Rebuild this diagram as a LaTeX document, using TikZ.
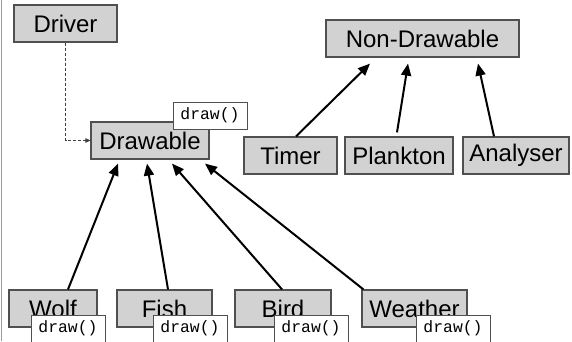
\documentclass[tikz,border=0pt]{standalone}
\usepackage{fontspec}
\setmainfont{Liberation Sans}
\setmonofont{Liberation Mono}
\usepackage{xcolor}
\usetikzlibrary{arrows.meta,positioning,calc}

\definecolor{boxfill}{HTML}{D2D2D2}
\definecolor{boxline}{HTML}{505050}

\begin{document}
\begin{tikzpicture}[x=1pt, y=1pt, every node/.style={align=center}]
\tikzset{
  cls/.style={draw=boxline, fill=boxfill, line width=1.2pt, inner sep=0pt,
    minimum height=37pt, font=\fontsize{24}{28}\selectfont},
  meth/.style={draw=boxline, fill=white, line width=0.8pt, inner sep=0pt,
    minimum width=74pt, minimum height=27pt, font=\ttfamily\fontsize{16.4}{19}\selectfont},
  inherit/.style={line width=2pt, -{Triangle[length=12pt,width=10pt]}},
  uses/.style={black!75, line width=0.8pt, dash pattern=on 3pt off 2pt, -{Triangle[length=5pt,width=4.5pt]}}
}
\useasboundingbox (0,0) rectangle (572,341);
\draw[gray!80, line width=1.2pt] (1.5,0) -- (1.5,341);

\node[cls, minimum width=103pt] (driver) at (65.5,317.5) {Driver};
\node[cls, minimum width=118pt] (drawable) at (150,200.5) {Drawable};
\node[meth] (drawablem) at (210,225.5) {draw()};

\node[cls, minimum width=193pt] (nondraw) at (422.5,302.5) {Non-Drawable};
\node[cls, minimum width=93pt] (timer) at (290.5,185.5) {Timer};
\node[cls, minimum width=108pt] (plankton) at (399,185.5) {Plankton};
\node[cls, minimum width=106pt] (analyser) at (516,185.5) {Analyser};

\node[cls, minimum width=88pt] (wolf) at (53,32.5) {Wolf};
\node[cls, minimum width=95pt] (fish) at (164.5,32.5) {Fish};
\node[cls, minimum width=96pt] (bird) at (283,32.5) {Bird};
\node[cls, minimum width=105pt] (weather) at (414.5,32.5) {Weather};
\node[meth] (wolfm) at (68,12.5) {draw()};
\node[meth] (fishm) at (190,12.5) {draw()};
\node[meth] (birdm) at (311,12.5) {draw()};
\node[meth] (weatherm) at (453,12.5) {draw()};

\draw[uses] (driver.south) |- (drawable.west);

\draw[inherit] ($(wolf.north)+(15,0)$) -- ($(drawable.south)+(-32,-4)$);
\draw[inherit] ($(fish.north)+(3.5,0)$) -- ($(drawable.south)+(-3,-4)$);
\draw[inherit] ($(bird.north)+(-1,0)$) -- ($(drawable.south)+(22,-4)$);
\draw[inherit] ($(weather.north west)+(2,0)$) -- ($(drawable.south)+(55,-4)$);

\draw[inherit] ($(timer.north)+(5.5,0)$) -- ($(nondraw.south)+(-52.5,-6)$);
\draw[inherit] ($(plankton.north)+(-2,4)$) -- ($(nondraw.south)+(-14.5,-6)$);
\draw[inherit] ($(analyser.north)+(-22,0)$) -- ($(nondraw.south)+(55.5,-6)$);
\end{tikzpicture}
\end{document}
